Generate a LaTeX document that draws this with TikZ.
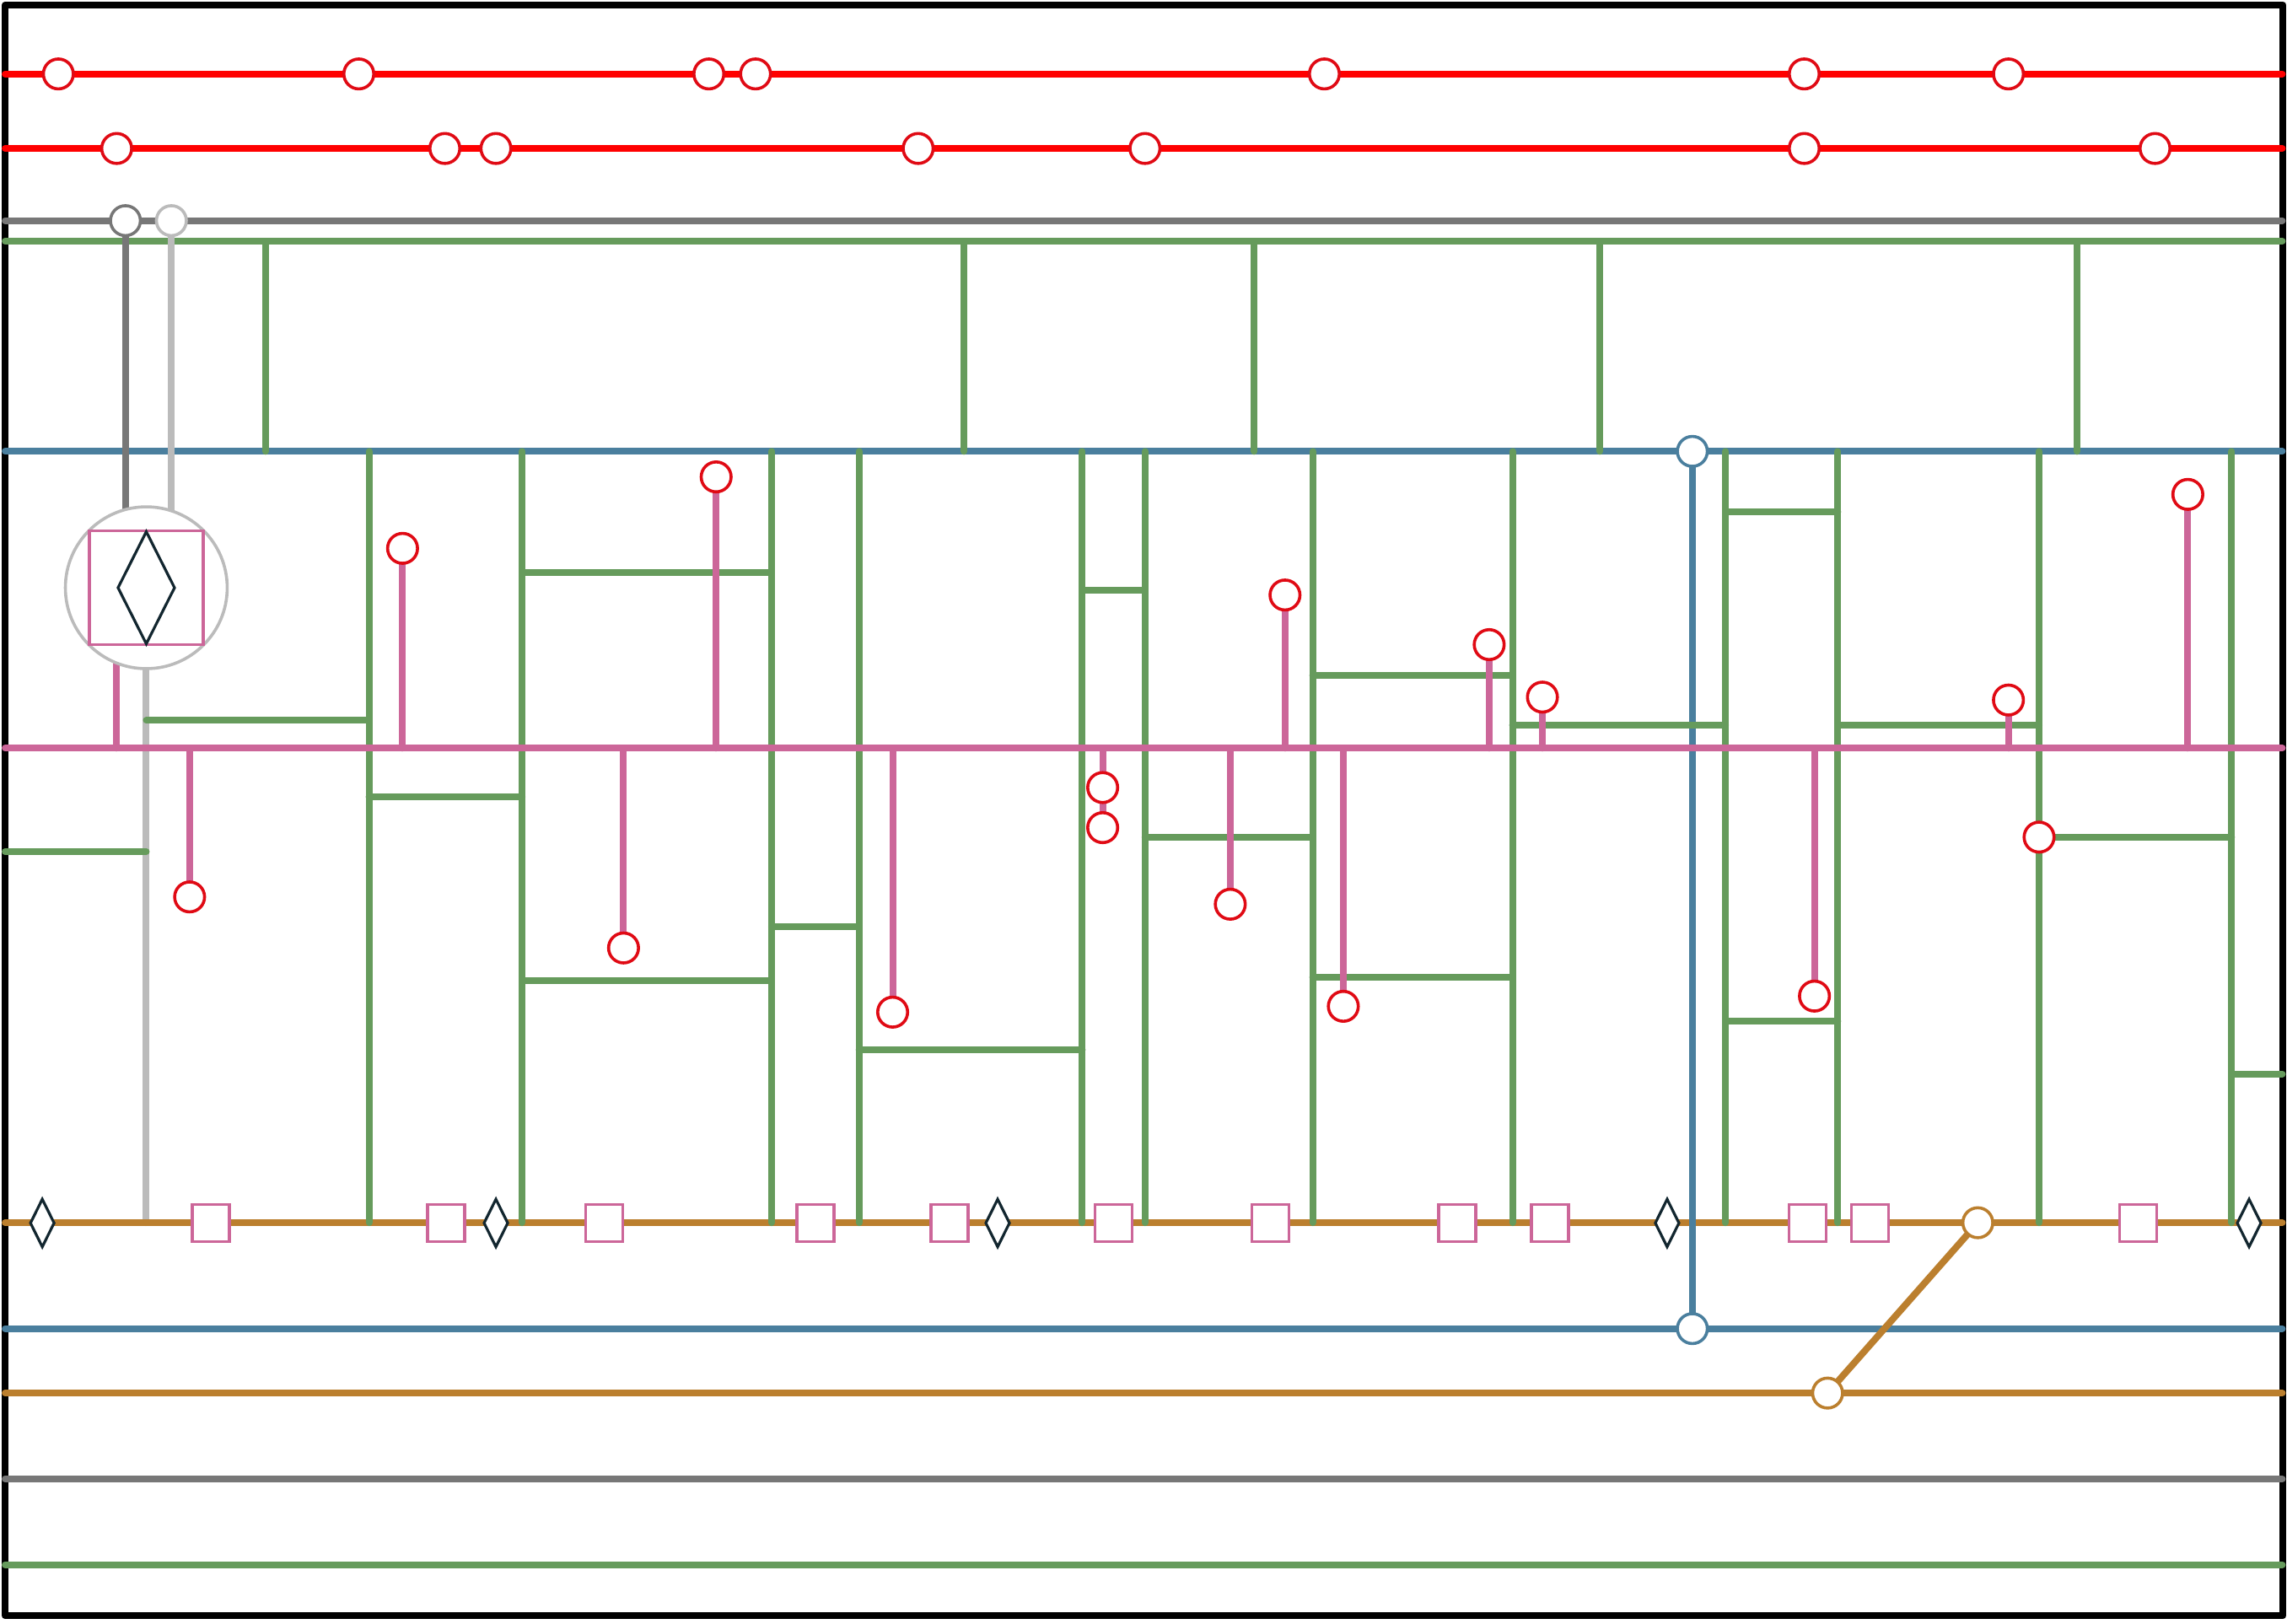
\documentclass[tikz,border=0pt]{standalone}
\usepackage{xcolor}
\usepackage{tikz}
\usetikzlibrary{calc}
\usetikzlibrary{backgrounds}
\usetikzlibrary{shapes.geometric}
\definecolor{wirered}{HTML}{FF0000}
\definecolor{ringred}{HTML}{E00A14}
\definecolor{wiregreen}{HTML}{669B5C}
\definecolor{wirepink}{HTML}{CC6699}
\definecolor{wireblue}{HTML}{4A7F9E}
\definecolor{wirebrown}{HTML}{BB7F2E}
\definecolor{wiregray}{HTML}{777777}
\definecolor{wirelight}{HTML}{BBBBBB}
\definecolor{inkdark}{HTML}{12262F}
\tikzset{
    wire/.style = {line width=.08cm, line cap=round},
    redwire/.style = {wire, wirered},
    greenwire/.style = {wire, wiregreen},
    pinkwire/.style = {wire, wirepink},
    bluewire/.style = {wire, wireblue},
    brownwire/.style = {wire, wirebrown},
    graywire/.style = {wire, wiregray},
    lightwire/.style = {wire, wirelight},
    ring/.style = {circle, draw=#1, fill=white, line width=.036cm, minimum size=.355cm, inner sep=0, outer sep=0},
    box/.style = {rectangle, draw=wirepink, fill=white, line width=.036cm, minimum size=.44cm, inner sep=0, outer sep=0},
    gem/.style = {diamond, draw=inkdark, fill=white, line width=.032cm, minimum width=.28cm, minimum height=.565cm, inner sep=0, outer sep=0},
}

\begin{document}
\begin{tikzpicture} [x=.017296cm, y=-.017296cm]
    \useasboundingbox (0,0) rectangle (1568,1113);

    \foreach \x [count=\i] in {40,246,486,518,908,1237,1377} {
    \node[ring=ringred] (ra\i) at (\x,50.7) {};
    }
    \foreach \x [count=\i] in {80,305,340,629.5,785,1237,1477.5} {
    \node[ring=ringred] (rb\i) at (\x,101.8) {};
    }
    \foreach \x/\y [count=\i] in {130/615,427.5/650,612/694,756/540,843.5/620,921/690,1244/683,276/376,491/327,881/408,1021/442,1057.5/478,1377/480,1500/339} {
    \node[ring=ringred] (tap\i) at (\x,\y) {};
    }
    \node[ring=ringred] (tapx) at (756,567.5) {};
    \node[ring=ringred] (tapg) at (1398,574) {};
    \node[ring=wiregray] (gringa) at (86,151.3) {};
    \node[ring=wirelight] (gringb) at (117.5,151.3) {};
    \node[ring=wireblue] (bringa) at (1160.3,309.5) {};
    \node[ring=wireblue] (bringb) at (1160.3,911) {};
    \node[ring=wirebrown] (oringa) at (1356,838.4) {};
    \node[ring=wirebrown] (oringb) at (1253,955.2) {};

    \node[circle, draw=wirelight, fill=white, line width=.036cm, minimum size=1.92cm, inner sep=0, outer sep=0] (hub) at (100.3,403) {};
    \node[box, minimum size=1.35cm] (hubbox) at (hub) {};
    \node[gem, minimum width=.67cm, minimum height=1.33cm] (hubgem) at (hub) {};

    \foreach \x [count=\i] in {144.5,306,414.3,559,651,763.5,871,999,1062.5,1239.3,1282,1466} {
    \node[box] (sq\i) at (\x,838.6) {};
    }
    \foreach \x [count=\i] in {29,340,684,1143,1542} {
    \node[gem] (gm\i) at (\x,838.6) {};
    }

    \begin{pgfonlayer}{background}
    \fill[white] (0,0) rectangle (1568,1113);
    \draw[black, line width=.08cm, line join=round] (3.5,3.4) rectangle (1565.3,1107.8);

    \foreach \y/\n in {50.7/reda, 101.8/redb, 151.3/graya, 165.4/greena, 309.5/bluea, 513/pinka, 838.4/browna, 911/blueb, 955.2/brownb, 1014.1/grayb, 1072.9/greenb} {
    \coordinate (\n w) at (3.5,\y);
    \coordinate (\n e) at (1564.8,\y);
    }

    \draw[redwire] (redaw) -- (redae);
    \draw[redwire] (redbw) -- (redbe);
    \draw[graywire] (grayaw) -- (grayae);
    \draw[greenwire] (greenbw) -- (greenbe);
    \draw[graywire] (graybw) -- (graybe);

    \draw[lightwire] (hub) -- (hub |- brownaw);
    \draw[brownwire] (brownaw) -- (brownae);
    \draw[brownwire] (brownbw) -- (brownbe);
    \draw[bluewire] (blueaw) -- (blueae);
    \draw[bluewire] (bluebw) -- (bluebe);
    \draw[bluewire] (bringa) -- (bringb);
    \draw[brownwire] (oringa) -- (oringb);

    \draw[greenwire] (greenaw) -- (greenae);
    \foreach \x in {182,661,860,1097,1424} {
    \draw[greenwire] (\x,0 |- greenaw) -- (\x,0 |- blueaw);
    }
    \foreach \x in {253,358,529,589,742,785,900,1037,1183,1260,1398,1530} {
    \coordinate (v\x) at (\x,0 |- blueaw);
    \draw[greenwire] (v\x) -- (v\x |- brownaw);
    }
    \coordinate (v100) at (hub |- blueaw);
    \coordinate (v3) at (redaw);
    \coordinate (v1565) at (redae);
    \foreach \a/\b/\y in {100/253/494,3/100/584,253/358/546.5,358/529/392.5,358/529/672.5,529/589/635.5,589/742/720,742/785/405,785/900/574.3,900/1037/463,900/1037/670.3,1037/1183/497.3,1183/1260/351,1183/1260/700.3,1260/1398/497.3,1530/1565/736.3} {
    \draw[greenwire] (v\a |- 0,\y) -- (v\b |- 0,\y);
    }
    \draw[greenwire] (tapg) -- (v1530 |- tapg);

    \draw[graywire] (gringa) -- (gringa |- hub);
    \draw[lightwire] (gringb) -- (gringb |- hub);

    \draw[pinkwire] (pinkaw) -- (pinkae);
    \draw[pinkwire] (80,0 |- pinkaw) -- (80,0 |- hub);
    \foreach \i in {1,...,14} {
    \draw[pinkwire] (tap\i |- pinkaw) -- (tap\i);
    }
    \draw[pinkwire] (tap4) -- (tapx);
    \end{pgfonlayer}
\end{tikzpicture}
\end{document}
